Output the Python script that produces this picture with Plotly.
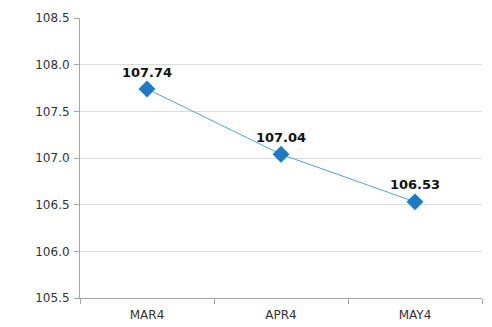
import plotly.graph_objects as go

categories = ["MAR4", "APR4", "MAY4"]
values = [107.74, 107.04, 106.53]
y_ticks = [105.5, 106.0, 106.5, 107.0, 107.5, 108.0, 108.5]
y_tick_labels = ["105.5", "106.0", "106.5", "107.0", "107.5", "108.0", "108.5"]

fig = go.Figure()
fig.add_trace(go.Scatter(
    x=categories,
    y=values,
    mode="lines+markers+text",
    line=dict(color="#4ba6d3", width=1),
    marker=dict(symbol="diamond", size=13, color="#1a7cc8"),
    text=[f"{v:.2f}" for v in values],
    textposition="top center",
    textfont=dict(family="DejaVu Sans", size=13, color="#111111"),
    texttemplate="<b>%{text}</b>",
    cliponaxis=False,
    hoverinfo="skip",
))

fig.update_layout(
    width=492,
    height=327,
    margin=dict(l=80, r=10, t=18, b=29),
    paper_bgcolor="white",
    plot_bgcolor="white",
    showlegend=False,
    font=dict(family="DejaVu Sans", size=12, color="#333333"),
)
fig.update_xaxes(
    type="category",
    range=[-0.5, 2.5],
    automargin=False,
    showgrid=False,
    showline=True,
    linecolor="#a6a6a6",
    linewidth=1,
    ticks="outside",
    tickson="boundaries",
    ticklen=5,
    tickcolor="#a6a6a6",
    ticklabelstandoff=6,
    tickfont=dict(family="DejaVu Sans", size=12, color="#333333"),
)
fig.update_yaxes(
    range=[105.5, 108.5],
    automargin=False,
    tickvals=y_ticks,
    ticktext=y_tick_labels,
    showgrid=True,
    gridcolor="#dcdcdc",
    gridwidth=1,
    showline=True,
    linecolor="#a6a6a6",
    linewidth=1,
    ticks="outside",
    ticklen=5,
    tickcolor="#a6a6a6",
    ticklabelstandoff=2,
    zeroline=False,
    tickfont=dict(family="DejaVu Sans", size=12, color="#333333"),
)

fig.write_html("out.html")
